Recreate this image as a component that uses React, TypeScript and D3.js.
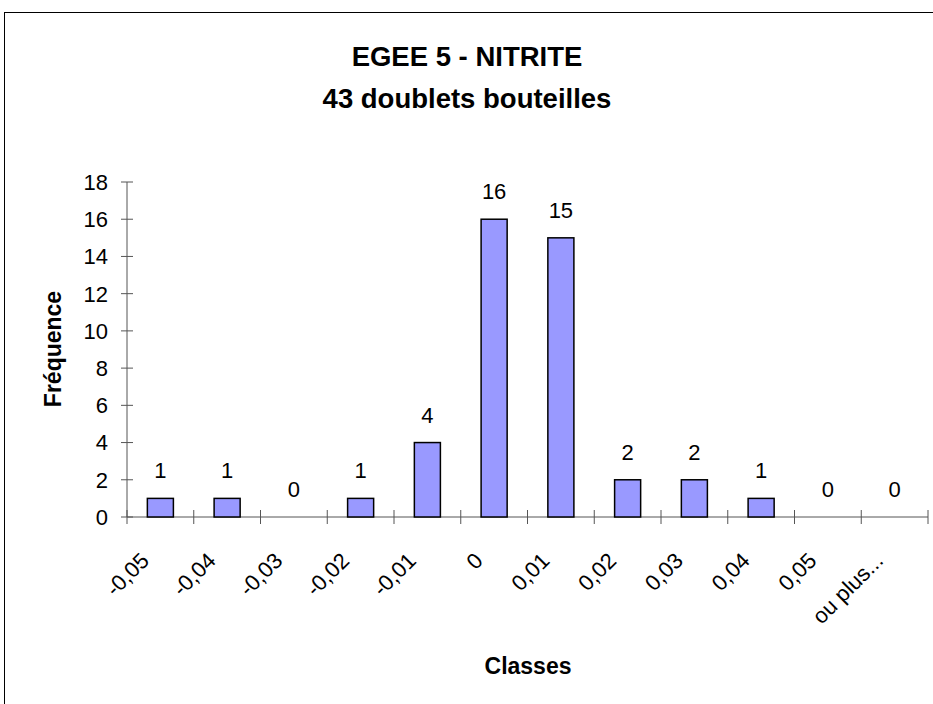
import React from "react";
import * as d3 from "d3";

const categories = ["-0,05", "-0,04", "-0,03", "-0,02", "-0,01", "0", "0,01", "0,02", "0,03", "0,04", "0,05", "ou plus..."];
const frequencies = [1, 1, 0, 1, 4, 16, 15, 2, 2, 1, 0, 0];
const yTicks = [0, 2, 4, 6, 8, 10, 12, 14, 16, 18];
const titleLines = ["EGEE 5 - NITRITE", "43 doublets bouteilles"];
const xTitle = "Classes";
const yTitle = "Fréquence";

const W = 933;
const H = 704;
const FONT = "Arial, 'Liberation Sans', sans-serif";

export default function App() {
  const left = 127;
  const right = 928;
  const top = 182;
  const bottom = 517;

  const x = d3.scaleBand<string>().domain(categories).range([left, right]).paddingInner(0).paddingOuter(0);
  const y = d3.scaleLinear().domain([0, 18]).range([bottom, top]);
  const bw = x.bandwidth();
  const barW = bw * 0.39;

  const tickXs = categories.map((c) => x(c) as number).concat([right]);

  return (
    <svg width={W} height={H} style={{ position: "absolute", left: 0, top: 0, background: "#fff" }}>
      <rect x={0} y={0} width={W} height={H} fill="#fff" />
      <rect x={4.5} y={12.5} width={W + 50} height={H + 50} fill="none" stroke="#000" strokeWidth={1} />
      {titleLines.map((t, i) => (
        <text key={i} x={467} y={66 + i * 42} textAnchor="middle" fontFamily={FONT} fontWeight="bold" fontSize={27.5} fill="#000">
          {t}
        </text>
      ))}
      {/* axes */}
      <line x1={left} y1={top} x2={left} y2={bottom} stroke="#555" strokeWidth={1} />
      <line x1={left} y1={bottom} x2={right} y2={bottom} stroke="#555" strokeWidth={1} />
      {yTicks.map((v) => (
        <g key={v}>
          <line x1={left - 6} x2={left + 6} y1={y(v)} y2={y(v)} stroke="#555" strokeWidth={1} />
          <text x={left - 19} y={y(v)} dy="0.36em" textAnchor="end" fontFamily={FONT} fontSize={22} fill="#000">
            {v}
          </text>
        </g>
      ))}
      {tickXs.map((tx, i) => (
        <line key={i} x1={tx} x2={tx} y1={bottom - 7} y2={bottom + 7} stroke="#555" strokeWidth={1} />
      ))}
      {/* bars */}
      {categories.map((c, i) => {
        const cx = (x(c) as number) + bw / 2;
        const v = frequencies[i];
        return (
          <g key={c}>
            {v > 0 && (
              <rect x={cx - barW / 2} y={y(v)} width={barW} height={bottom - y(v)} fill="#9999FF" stroke="#000" strokeWidth={1.5} />
            )}
            <text x={cx} y={y(v) - 20} textAnchor="middle" fontFamily={FONT} fontSize={22} fill="#000">
              {v}
            </text>
            <text
              transform={`translate(${cx - 10},${bottom + 45}) rotate(-45)`}
              textAnchor="end"
              fontFamily={FONT}
              fontSize={22}
              fill="#000"
            >
              {c}
            </text>
          </g>
        );
      })}
      <text x={528} y={674} textAnchor="middle" fontFamily={FONT} fontWeight="bold" fontSize={23} fill="#000">
        {xTitle}
      </text>
      <text transform={`translate(61,349) rotate(-90)`} textAnchor="middle" fontFamily={FONT} fontWeight="bold" fontSize={23} fill="#000">
        {yTitle}
      </text>
    </svg>
  );
}
